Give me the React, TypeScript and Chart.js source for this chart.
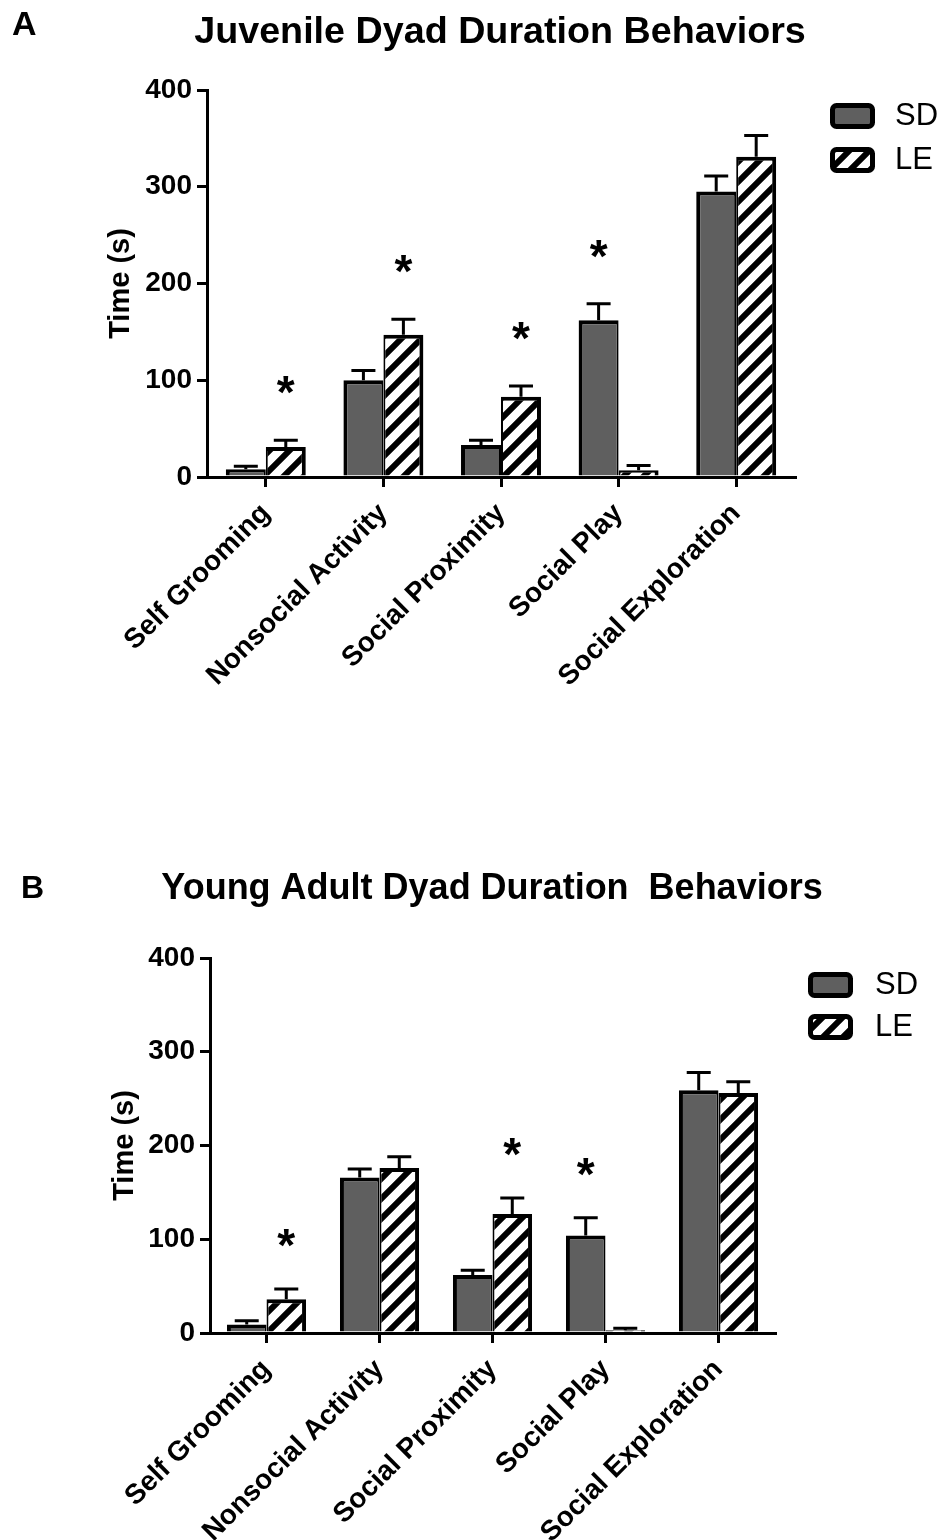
import { useEffect, useRef } from 'react';
import { Chart, registerables } from 'chart.js';

Chart.register(...registerables);

const FONT = "'Liberation Sans', Arial, Helvetica, sans-serif";

// Behaviour categories on the x axis
const categories = ['Self Grooming', 'Nonsocial Activity', 'Social Proximity', 'Social Play', 'Social Exploration'];
const strains = ['SD', 'LE'];

// Y axis range and tick step (seconds)
const yMax = 400;
const yStep = 100;

// Juvenile dyads: mean time (s) and SEM
const juvenileSD = [8, 100, 33, 162, 295];
const juvenileSDErr = [3, 10, 5, 17, 16];
const juvenileLE = [31, 147, 83, 7, 331];
const juvenileLEErr = [7, 16, 11, 5, 22];
// which strain is marked significant in each category
const juvenileSig = ['LE', 'LE', 'LE', 'SD', ''];

// Young adult dyads: mean time (s) and SEM
const adultSD = [9, 166, 62, 104, 259];
const adultSDErr = [4, 9, 5, 19, 19];
const adultLE = [36, 176, 127, 3, 256];
const adultLEErr = [11, 12, 17, 2, 12];
const adultSig = ['LE', '', 'LE', 'SD', ''];

type PanelCfg = {
  letter: string;
  title: string;
  titleSize: number;
  top: number;
  height: number;
  area: { left: number; right: number; top: number; bottom: number };
  letterPos: { x: number; y: number; size: number };
  titlePos: { x: number; y: number };
  legendPos: { x: number; y: number; gap: number; textX: number };
  yTitleX: number;
  catPct: number;
  starGap: number;
  sd: number[];
  sdErr: number[];
  le: number[];
  leErr: number[];
  sig: string[];
};

const panels: PanelCfg[] = [
  {
    letter: 'A',
    title: 'Juvenile Dyad Duration Behaviors',
    titleSize: 37.7,
    top: 0,
    height: 780,
    area: { left: 207, right: 795, top: 90, bottom: 477 },
    letterPos: { x: 12, y: 35, size: 34 },
    titlePos: { x: 500, y: 43 },
    legendPos: { x: 830, y: 103, gap: 44, textX: 895 },
    yTitleX: 121,
    catPct: 0.68,
    starGap: 55,
    sd: juvenileSD,
    sdErr: juvenileSDErr,
    le: juvenileLE,
    leErr: juvenileLEErr,
    sig: juvenileSig,
  },
  {
    letter: 'B',
    title: 'Young Adult Dyad Duration  Behaviors',
    titleSize: 36,
    top: 780,
    height: 760,
    area: { left: 210, right: 775, top: 178, bottom: 553 },
    letterPos: { x: 21, y: 118, size: 32 },
    titlePos: { x: 492, y: 119 },
    legendPos: { x: 808, y: 192, gap: 42, textX: 875 },
    yTitleX: 125,
    catPct: 0.7,
    starGap: 51,
    sd: adultSD,
    sdErr: adultSDErr,
    le: adultLE,
    leErr: adultLEErr,
    sig: adultSig,
  },
];

function makeHatch(): CanvasPattern | string {
  const s = 20;
  const c = document.createElement('canvas');
  c.width = s;
  c.height = s;
  const g = c.getContext('2d');
  if (!g) return '#ffffff';
  g.fillStyle = '#ffffff';
  g.fillRect(0, 0, s, s);
  g.strokeStyle = '#000000';
  g.lineWidth = 6;
  g.beginPath();
  for (const o of [-s, 0, s]) {
    g.moveTo(o - 5, s + 5);
    g.lineTo(o + s + 5, -5);
  }
  g.stroke();
  const p = g.createPattern(c, 'repeat');
  return p || '#ffffff';
}

function roundRect(ctx: CanvasRenderingContext2D, x: number, y: number, w: number, h: number, r: number) {
  ctx.beginPath();
  ctx.moveTo(x + r, y);
  ctx.lineTo(x + w - r, y);
  ctx.arcTo(x + w, y, x + w, y + r, r);
  ctx.lineTo(x + w, y + h - r);
  ctx.arcTo(x + w, y + h, x + w - r, y + h, r);
  ctx.lineTo(x + r, y + h);
  ctx.arcTo(x, y + h, x, y + h - r, r);
  ctx.lineTo(x, y + r);
  ctx.arcTo(x, y, x + r, y, r);
  ctx.closePath();
}

function decorPlugin(cfg: PanelCfg) {
  const errs = [cfg.sdErr, cfg.leErr];
  return {
    id: 'decor' + cfg.letter,
    afterDatasetsDraw(chart: any) {
      const ctx: CanvasRenderingContext2D = chart.ctx;
      const y = chart.scales.y;
      ctx.save();
      ctx.strokeStyle = '#000';
      ctx.lineWidth = 3;
      ctx.lineCap = 'butt';
      errs.forEach((errList, di) => {
        const meta = chart.getDatasetMeta(di);
        const values = chart.data.datasets[di].data as number[];
        meta.data.forEach((bar: any, i: number) => {
          const base = y.getPixelForValue(values[i]);
          const tip = y.getPixelForValue(values[i] + errList[i]);
          ctx.beginPath();
          ctx.moveTo(bar.x, base);
          ctx.lineTo(bar.x, tip);
          ctx.moveTo(bar.x - 12, tip);
          ctx.lineTo(bar.x + 12, tip);
          ctx.stroke();
        });
      });
      // significance stars above the marked bar's error bar
      ctx.fillStyle = '#000';
      ctx.font = `bold 46px ${FONT}`;
      ctx.textAlign = 'center';
      ctx.textBaseline = 'alphabetic';
      const m = ctx.measureText('*');
      cfg.sig.forEach((s, i) => {
        if (!s) return;
        const di = strains.indexOf(s);
        const bar: any = chart.getDatasetMeta(di).data[i];
        const values = chart.data.datasets[di].data as number[];
        const tip = y.getPixelForValue(values[i] + errs[di][i]);
        const yc = tip - cfg.starGap;
        ctx.fillText('*', bar.x, yc + (m.actualBoundingBoxAscent - m.actualBoundingBoxDescent) / 2);
      });
      ctx.restore();
    },
    afterDraw(chart: any) {
      const ctx: CanvasRenderingContext2D = chart.ctx;
      ctx.save();
      ctx.fillStyle = '#000';
      ctx.textBaseline = 'alphabetic';
      ctx.textAlign = 'left';
      ctx.font = `bold ${cfg.letterPos.size}px ${FONT}`;
      ctx.fillText(cfg.letter, cfg.letterPos.x, cfg.letterPos.y);
      ctx.textAlign = 'center';
      ctx.font = `bold ${cfg.titleSize}px ${FONT}`;
      ctx.fillText(cfg.title, cfg.titlePos.x, cfg.titlePos.y);

      // legend
      const lp = cfg.legendPos;
      chart.data.datasets.forEach((ds: any, i: number) => {
        const by = lp.y + i * lp.gap;
        roundRect(ctx, lp.x + 2.5, by + 2.5, 40, 21, 4);
        ctx.fillStyle = ds.backgroundColor;
        ctx.fill();
        ctx.lineWidth = 5;
        ctx.strokeStyle = '#000';
        ctx.stroke();
        ctx.fillStyle = '#000';
        ctx.font = `31px ${FONT}`;
        ctx.textAlign = 'left';
        ctx.textBaseline = 'middle';
        ctx.fillText(ds.label, lp.textX, by + 13);
      });
      ctx.restore();
    },
  };
}

function Panel({ cfg }: { cfg: PanelCfg }) {
  const ref = useRef<HTMLCanvasElement>(null);
  useEffect(() => {
    const canvas = ref.current;
    if (!canvas) return;
    const hatch = makeHatch();
    const a = cfg.area;
    const chart = new Chart(canvas, {
      type: 'bar',
      data: {
        labels: categories,
        datasets: [
          {
            label: strains[0],
            data: cfg.sd,
            backgroundColor: '#5f5f5f',
            borderColor: '#000000',
            borderWidth: { top: 4, left: 4, right: 2, bottom: 0 },
            categoryPercentage: cfg.catPct,
            barPercentage: 1,
          },
          {
            label: strains[1],
            data: cfg.le,
            backgroundColor: hatch as any,
            borderColor: '#000000',
            borderWidth: { top: 4, left: 2, right: 4, bottom: 0 },
            categoryPercentage: cfg.catPct,
            barPercentage: 1,
          },
        ],
      },
      options: {
        responsive: false,
        animation: false,
        devicePixelRatio: 1,
        layout: { padding: { top: a.top, left: 0, right: 951 - a.right, bottom: 0 } },
        plugins: { legend: { display: false }, title: { display: false }, tooltip: { enabled: false } },
        scales: {
          x: {
            offset: true,
            grid: { display: true, drawOnChartArea: false, offset: false, color: '#000', lineWidth: 3, tickLength: 10 },
            border: { display: true, color: '#000', width: 3 },
            ticks: {
              color: '#000',
              font: { family: FONT, size: 28, weight: 'bold' },
              minRotation: 45,
              maxRotation: 45,
              autoSkip: false,
              padding: 10,
            },
            afterFit: (scale: any) => {
              scale.height = cfg.height - a.bottom;
            },
          },
          y: {
            min: 0,
            max: yMax,
            grid: { display: true, drawOnChartArea: false, color: '#000', lineWidth: 3, tickLength: 10 },
            border: { display: true, color: '#000', width: 3 },
            ticks: {
              stepSize: yStep,
              color: '#000',
              padding: 5,
              font: { family: FONT, size: 28, weight: 'bold' },
            },
            title: {
              display: true,
              text: 'Time (s)',
              color: '#000',
              font: { family: FONT, size: 29, weight: 'bold' },
              padding: cfg.yTitleX - 17.4,
            },
            afterFit: (scale: any) => {
              scale.width = a.left;
            },
          },
        },
      },
      plugins: [decorPlugin(cfg)],
    } as any);
    return () => chart.destroy();
  }, [cfg]);
  return (
    <canvas
      ref={ref}
      width={951}
      height={cfg.height}
      style={{ position: 'absolute', left: 0, top: cfg.top, width: 951, height: cfg.height, display: 'block' }}
    />
  );
}

export default function App() {
  return (
    <div>
      {panels.map((p) => (
        <Panel key={p.letter} cfg={p} />
      ))}
    </div>
  );
}
